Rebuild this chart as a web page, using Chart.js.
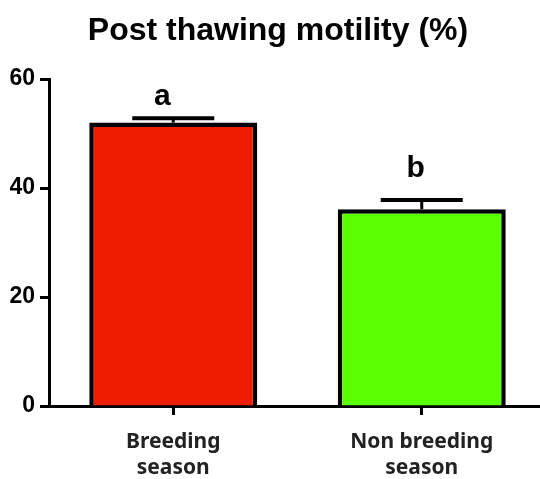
<!DOCTYPE html>
<html>
<head>
<meta charset="utf-8">
<script src="https://cdn.jsdelivr.net/npm/chart.js@4"></script>
<style>
html,body{margin:0;padding:0;background:#fff;overflow:hidden;}
#wrap{width:560px;height:479px;}
</style>
</head>
<body>
<div id="wrap"><canvas id="c" width="560" height="479"></canvas></div>
<script>
// ---- data ----
const categories = [["Breeding", "season"], ["Non breeding", "season"]];
const means = [52.0, 36.1];
const sems = [0.8, 1.7];
const letters = ["a", "b"];
const yTicks = [0, 20, 40, 60];

const barColors = ["#ee1d00", "#5aff00"];

const errorBarPlugin = {
  id: "errorBars",
  afterDatasetsDraw(chart, args, opts) {
    const ctx = chart.ctx;
    const meta = chart.getDatasetMeta(0);
    const ys = chart.scales.y;
    ctx.save();
    meta.data.forEach((bar, i) => {
      const x = bar.x;
      const yTop = ys.getPixelForValue(means[i] + sems[i]);
      const yBar = bar.y;
      ctx.strokeStyle = "#000";
      ctx.lineWidth = 3;
      ctx.beginPath();
      ctx.moveTo(x, yBar);
      ctx.lineTo(x, yTop);
      ctx.stroke();
      ctx.lineWidth = 4;
      ctx.beginPath();
      ctx.moveTo(x - opts.capHalf, yTop);
      ctx.lineTo(x + opts.capHalf, yTop);
      ctx.stroke();
      ctx.fillStyle = "#000";
      ctx.font = "bold 30px 'Liberation Sans', Arial, sans-serif";
      ctx.textAlign = "center";
      ctx.textBaseline = "alphabetic";
      ctx.fillText(letters[i], x + opts.letterDx[i], yTop - opts.letterDy[i]);
    });
    ctx.restore();
  }
};

new Chart(document.getElementById("c"), {
  type: "bar",
  data: {
    labels: categories,
    datasets: [{
      data: means,
      backgroundColor: barColors,
      borderColor: "#000",
      borderWidth: 4.5,
      borderSkipped: "start",
      categoryPercentage: 1,
      barPercentage: 0.676
    }]
  },
  options: {
    responsive: false,
    animation: false,
    layout: { padding: { left: 10, right: 14, top: 0, bottom: 0 } },
    plugins: {
      legend: { display: false },
      tooltip: { enabled: false },
      title: {
        display: true,
        text: "Post thawing motility (%)",
        color: "#000",
        font: { family: "'Liberation Sans', Arial, sans-serif", size: 32, weight: "bold", lineHeight: 1.2 },
        padding: { top: 12, bottom: 28.6 }
      },
      errorBars: { capHalf: 41, letterDx: [-11, -6], letterDy: [13, 23] }
    },
    scales: {
      x: {
        offset: true,
        grid: { display: true, drawOnChartArea: false, drawTicks: true, offset: false, tickLength: 9, tickWidth: 3, tickColor: "#000" },
        border: { display: true, color: "#000", width: 3 },
        ticks: {
          color: "#222",
          padding: 14,
          maxRotation: 0,
          autoSkip: false,
          font: { family: "'Noto Sans', 'Open Sans', sans-serif", size: 21, weight: "bold", lineHeight: 1.25 }
        },
        afterFit(scale) { scale.height = 73; }
      },
      y: {
        min: 0,
        max: 60,
        afterBuildTicks(scale) { scale.ticks = yTicks.map(v => ({ value: v })); },
        grid: { display: true, drawOnChartArea: false, drawTicks: true, tickLength: 9, tickWidth: 3, tickColor: "#000" },
        border: { display: true, color: "#000", width: 3 },
        ticks: {
          color: "#000",
          padding: 5,
          font: { family: "'Liberation Sans', Arial, sans-serif", size: 23, weight: "bold" }
        },
        afterFit(scale) { scale.width = 39; }
      }
    }
  },
  plugins: [errorBarPlugin]
});
</script>
</body>
</html>
